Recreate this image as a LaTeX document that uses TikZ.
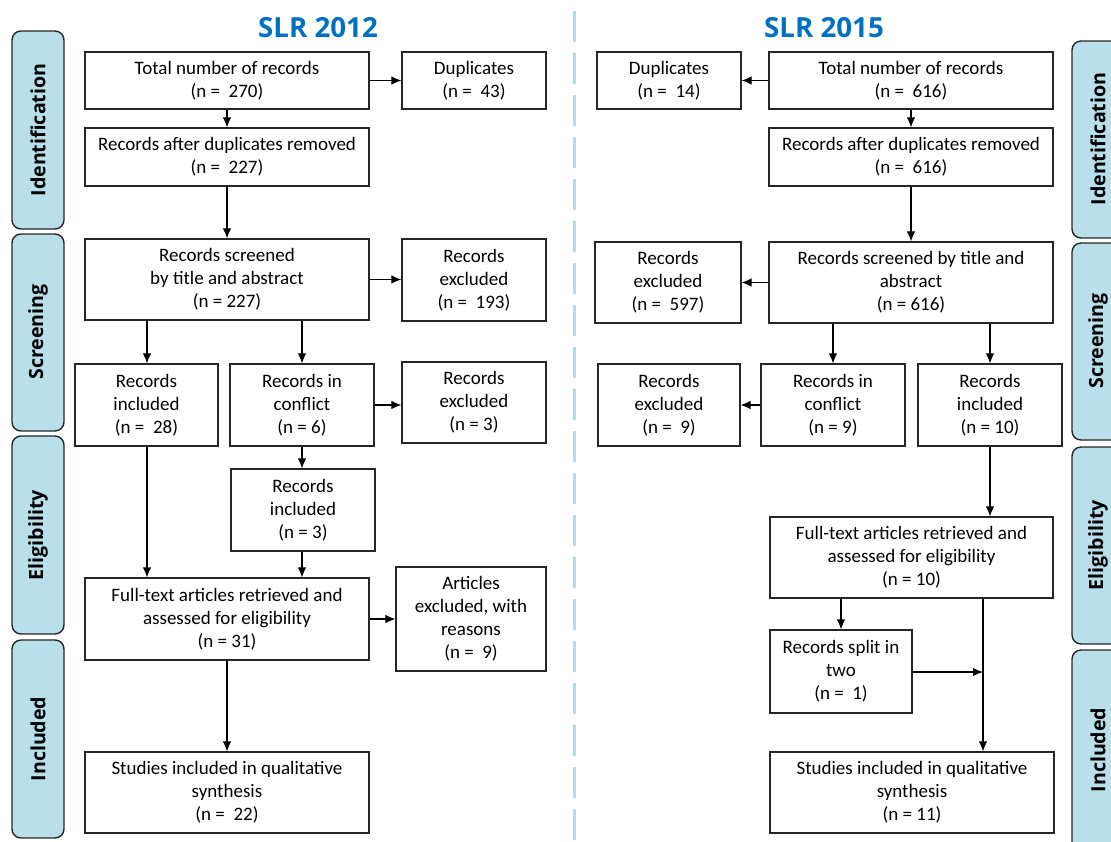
\documentclass[tikz,border=0pt]{standalone}
\usepackage{fontspec}
\setmainfont{Carlito}
\newfontfamily\bandfont{Open Sans}
\usetikzlibrary{arrows.meta}
\definecolor{bandfill}{HTML}{B8DFEA}
\definecolor{titleblue}{HTML}{0070C0}
\definecolor{divblue}{HTML}{B4DCE8}
\tikzset{
  box/.style={draw=black!85, line width=1.2pt, align=center, inner sep=0pt,
    font=\fontsize{19}{23}\selectfont, anchor=center},
  band/.style={draw=black!85, fill=bandfill, line width=1.4pt, rounded corners=9pt},
  bandtext/.style={rotate=90, font=\bandfont\bfseries\fontsize{19.6}{21}\selectfont},
  arr/.style={line width=1.1pt, -{Latex[length=10pt,width=8.5pt]}},
  ttl/.style={font=\bandfont\bfseries\fontsize{27.7}{30}\selectfont, text=titleblue}
}
\newcommand{\bx}[6]{\node[box, minimum width=#4pt, minimum height=#5pt] (#1) at (#2,#3) {#6};}
\begin{document}
\begin{tikzpicture}[x=1pt,y=-1pt]
\useasboundingbox (0,0) rectangle (1111,841);
\begin{scope}
\clip (0,0) rectangle (1111,841);
% bands left
\draw[band] (12,31) rectangle (64,229);
\draw[band] (12,234) rectangle (64,431);
\draw[band] (12,436) rectangle (64,634);
\draw[band] (12,640) rectangle (64,838);
\node[bandtext] (bl1) at (38,130) {Identification};
\node[bandtext] (bl2) at (38,332) {Screening};
\node[bandtext] (bl3) at (38,535) {Eligibility};
\node[bandtext] (bl4) at (38,739) {Included};
% bands right
\draw[band] (1072,41) rectangle (1124,238);
\draw[band] (1072,243) rectangle (1124,440);
\draw[band] (1072,447) rectangle (1124,644);
\draw[band] (1072,650) rectangle (1124,860);
\node[bandtext] (br1) at (1098,139) {Identification};
\node[bandtext] (br2) at (1098,341) {Screening};
\node[bandtext] (br3) at (1098,545) {Eligibility};
\node[bandtext] (br4) at (1098,750) {Included};
% divider
\draw[divblue, line width=3pt, dash pattern=on 31pt off 11pt] (574,11) -- (574,841);
\end{scope}
% titles
\node[ttl] (t1) at (318,28) {SLR 2012};
\node[ttl] (t2) at (824,28) {SLR 2015};
% left boxes
\bx{ltot}{227}{80.5}{284}{57}{Total number of records\\(n =\ \ 270)}
\bx{ldup}{474}{80.5}{144}{57}{Duplicates\\(n =\ \ 43)}
\bx{ladr}{227}{157}{284}{58}{Records after duplicates removed\\(n =\ \ 227)}
\bx{lscr}{227}{279.5}{284}{81}{Records screened\\by title and abstract\\(n = 227)}
\bx{lex1}{474}{280}{144}{82}{Records\\excluded\\(n =\ \ 193)}
\bx{linc1}{146.5}{405}{143}{82}{Records\\included\\(n =\ \ 28)}
\bx{lcon}{302}{405}{144}{82}{Records in\\conflict\\(n = 6)}
\bx{lex2}{474}{402.5}{144}{81}{Records\\excluded\\(n = 3)}
\bx{linc2}{303}{510}{144}{82}{Records\\included\\(n = 3)}
\bx{lft}{227}{619}{284}{82}{Full-text articles retrieved and\\assessed for eligibility\\(n = 31)}
\bx{lart}{471}{619}{150}{104}{Articles\\excluded, with\\reasons\\(n =\ \ 9)}
\bx{lstu}{227}{792.5}{284}{81}{Studies included in qualitative\\synthesis\\(n =\ \ 22)}
% right boxes
\bx{rdup}{669}{80.5}{144}{57}{Duplicates\\(n =\ \ 14)}
\bx{rtot}{911}{80.5}{284}{57}{Total number of records\\(n =\ \ 616)}
\bx{radr}{911}{157}{284}{58}{Records after duplicates removed\\(n =\ \ 616)}
\bx{rex1}{668}{282.5}{146}{81}{Records\\excluded\\(n =\ \ 597)}
\bx{rscr}{911}{282.5}{284}{81}{Records screened by title and\\abstract\\(n = 616)}
\bx{rex2}{669}{405}{142}{82}{Records\\excluded\\(n =\ \ 9)}
\bx{rcon}{833}{405}{144}{82}{Records in\\conflict\\(n = 9)}
\bx{rinc}{990}{405}{144}{82}{Records\\included\\(n = 10)}
\bx{rft}{911.5}{557.5}{283}{81}{Full-text articles retrieved and\\assessed for eligibility\\(n = 10)}
\bx{rspl}{841}{671.5}{142}{83}{Records split in\\two\\(n =\ \ 1)}
\bx{rstu}{912}{792.5}{284}{81}{Studies included in qualitative\\synthesis\\(n = 11)}
% x guides
\coordinate (xa) at (147,0);
\coordinate (xb) at (302,0);
\coordinate (xc) at (833,0);
\coordinate (xd) at (841,0);
\coordinate (xe) at (983,0);
\coordinate (ye) at (0,672);
\coordinate (jn) at (983,672);
% left arrows
\draw[arr] (ltot) -- (ldup);
\draw[arr] (ltot) -- (ladr);
\draw[arr] (ladr) -- (lscr);
\draw[arr] (lscr) -- (lscr -| lex1.west);
\draw[arr] (lscr.south -| xa) -- (linc1.north -| xa);
\draw[arr] (lscr.south -| xb) -- (lcon.north -| xb);
\draw[arr] (lcon) -- (lcon -| lex2.west);
\draw[arr] (lcon.south -| xb) -- (linc2.north -| xb);
\draw[arr] (linc1.south -| xa) -- (lft.north -| xa);
\draw[arr] (linc2.south -| xb) -- (lft.north -| xb);
\draw[arr] (lft) -- (lart);
\draw[arr] (lft) -- (lstu);
% right arrows
\draw[arr] (rtot) -- (rdup);
\draw[arr] (rtot) -- (radr);
\draw[arr] (radr) -- (rscr);
\draw[arr] (rscr) -- (rscr -| rex1.east);
\draw[arr] (rscr.south -| xc) -- (rcon.north -| xc);
\draw[arr] (rscr.south -| rinc) -- (rinc);
\draw[arr] (rcon) -- (rex2);
\draw[arr] (rinc) -- (rinc |- rft.north);
\draw[arr] (rft.south -| xd) -- (rspl.north -| xd);
\draw[arr] (rft.south -| xe) -- (rstu.north -| xe);
\draw[arr] (rspl.east |- ye) -- (jn);
\end{tikzpicture}
\end{document}
